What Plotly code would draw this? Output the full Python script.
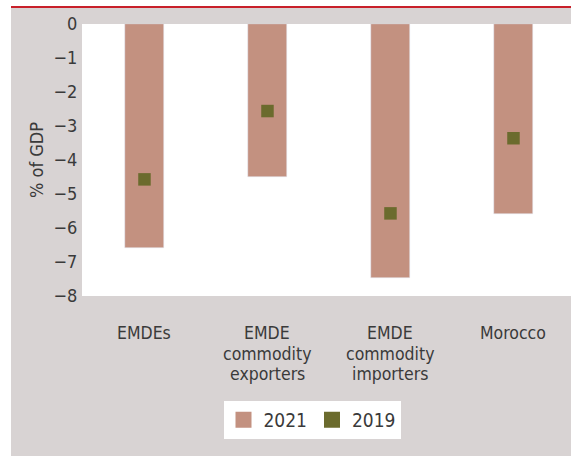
import plotly.graph_objects as go

categories = ["EMDEs", "EMDE commodity exporters", "EMDE commodity importers", "Morocco"]
tick_labels = [["EMDEs"], ["EMDE", "commodity", "exporters"], ["EMDE", "commodity", "importers"], ["Morocco"]]
values_2021 = [-6.58, -4.49, -7.46, -5.58]
values_2019 = [-4.57, -2.56, -5.57, -3.36]
y_ticks = [0, -1, -2, -3, -4, -5, -6, -7, -8]

C21 = "#c39180"
C19 = "#6b6b2d"
GREY = "#d8d3d3"
RED = "#c8202a"
TXT = "#3a3a3a"
FONT = "Liberation Sans Narrow, Arial Narrow, DejaVu Sans Condensed, sans-serif"

W, H = 571, 456
L, R, T, B = 82, 0, 24, 160
pw, ph = W - L - R, H - T - B

def px_x(p):
    return (p - L) / pw

def px_y(p):
    return (H - B - p) / ph

fig = go.Figure()
fig.add_trace(go.Bar(x=categories, y=values_2021, marker_color=C21, width=0.317,
                     showlegend=False, name="2021"))
fig.add_trace(go.Scatter(x=categories, y=values_2019, mode="markers",
                         marker=dict(symbol="square", size=12.5, color=C19),
                         showlegend=False, name="2019"))
# legend entries
fig.add_trace(go.Scatter(x=[None], y=[None], mode="markers", name="2021",
                         marker=dict(symbol="square", size=16, color=C21)))
fig.add_trace(go.Scatter(x=[None], y=[None], mode="markers", name="2019",
                         marker=dict(symbol="square", size=16, color=C19)))

shapes = [
    dict(type="rect", xref="paper", yref="paper", x0=px_x(11), x1=px_x(W), y0=px_y(H), y1=px_y(8),
         fillcolor=GREY, line_width=0, layer="below"),
    dict(type="rect", xref="paper", yref="paper", x0=0, x1=1, y0=0, y1=1,
         fillcolor="white", line_width=0, layer="below"),
    dict(type="line", xref="paper", yref="paper", x0=px_x(11), x1=px_x(W), y0=px_y(7), y1=px_y(7),
         line=dict(color=RED, width=2)),
]

annotations = []
for cat, lines in zip(categories, tick_labels):
    for j, line in enumerate(lines):
        annotations.append(dict(x=cat, y=px_y(321), xref="x", yref="paper", text=line,
                                showarrow=False, yanchor="top", yshift=-20.5 * j,
                                font=dict(family=FONT, size=17.5, color=TXT)))

fig.update_layout(
    width=W, height=H,
    margin=dict(l=L, r=R, t=T, b=B),
    paper_bgcolor="white", plot_bgcolor="white",
    font=dict(family=FONT, size=18, color=TXT),
    shapes=shapes, annotations=annotations,
    bargap=0,
    xaxis=dict(range=[-0.508, -0.508 + pw / 123], showticklabels=False, showgrid=False,
               zeroline=False, showline=False, ticks=""),
    yaxis=dict(range=[-8, 0], tickvals=y_ticks, showgrid=False, zeroline=False, showline=False,
               ticks="outside", ticklen=0, tickcolor="rgba(0,0,0,0)",
               tickfont=dict(size=18),
               title=dict(text="% of GDP", standoff=5, font=dict(size=18))),
    legend=dict(orientation="h", x=px_x(312), xanchor="center", y=px_y(401), yanchor="top",
                bgcolor="white", borderwidth=0, font=dict(size=19), itemwidth=30,
                tracegroupgap=0),
)

fig.write_html("out.html", config={"displayModeBar": False},
               post_script="document.body.style.margin='0';document.body.style.padding='0';")
